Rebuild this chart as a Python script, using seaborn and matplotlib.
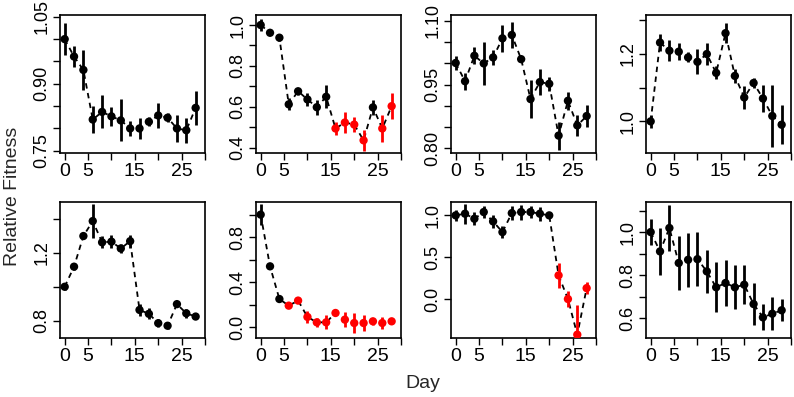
import numpy as np
import pandas as pd
import matplotlib
matplotlib.use("Agg")
import matplotlib.pyplot as plt
import seaborn as sns

sns.set_style("ticks")
plt.rcParams['font.family'] = ['Liberation Sans', 'DejaVu Sans']

days = [0, 2, 4, 6, 8, 10, 12, 14, 16, 18, 20, 22, 24, 26, 28]

fit1 = [1.00, 0.961, 0.931, 0.82, 0.837, 0.827, 0.818, 0.80, 0.80, 0.815, 0.829, 0.824, 0.80, 0.796, 0.846]
err1 = [0.035, 0.023, 0.044, 0.03, 0.037, 0.022, 0.047, 0.016, 0.024, 0.01, 0.029, 0.01, 0.031, 0.028, 0.038]
red1 = [0] * 15

fit2 = [1.0, 0.962, 0.938, 0.612, 0.676, 0.636, 0.598, 0.649, 0.494, 0.523, 0.513, 0.436, 0.597, 0.494, 0.603]
err2 = [0.028, 0.005, 0.015, 0.03, 0.018, 0.03, 0.037, 0.057, 0.03, 0.05, 0.037, 0.05, 0.037, 0.065, 0.065]
red2 = [0, 0, 0, 0, 0, 0, 0, 0, 1, 1, 1, 1, 0, 1, 1]

fit3 = [1.001, 0.958, 1.018, 1.0, 1.014, 1.059, 1.067, 1.01, 0.916, 0.956, 0.952, 0.830, 0.912, 0.854, 0.876]
err3 = [0.016, 0.02, 0.02, 0.05, 0.018, 0.031, 0.031, 0.006, 0.044, 0.03, 0.016, 0.033, 0.021, 0.025, 0.026]
red3 = [0] * 15

fit4 = [1.0, 1.234, 1.21, 1.207, 1.19, 1.177, 1.20, 1.144, 1.262, 1.135, 1.071, 1.114, 1.068, 1.016, 0.99]
err4 = [0.019, 0.026, 0.032, 0.025, 0.015, 0.037, 0.033, 0.019, 0.029, 0.022, 0.035, 0.016, 0.041, 0.092, 0.058]
red4 = [0] * 15

fit5 = [1.0, 1.118, 1.298, 1.386, 1.261, 1.265, 1.225, 1.268, 0.864, 0.841, 0.786, 0.771, 0.898, 0.844, 0.825]
err5 = [0.02, 0.018, 0.005, 0.098, 0.036, 0.039, 0.025, 0.039, 0.034, 0.032, 0.024, 0.022, 0.005, 0.026, 0.017]
red5 = [0] * 15

fit6 = [1.0, 0.541, 0.251, 0.192, 0.237, 0.092, 0.044, 0.044, 0.127, 0.068, 0.038, 0.038, 0.053, 0.038, 0.053]
err6 = [0.09, 0.005, 0.005, 0.005, 0.005, 0.05, 0.04, 0.063, 0.01, 0.068, 0.09, 0.07, 0.03, 0.055, 0.01]
red6 = [0, 0, 0, 1, 1, 1, 1, 1, 1, 1, 1, 1, 1, 1, 1]

fit7 = [1.0, 1.02, 0.96, 1.04, 0.928, 0.80, 1.027, 1.04, 1.04, 1.02, 1.0, 0.283, 0.0, -0.426, 0.13]
err7 = [0.065, 0.12, 0.08, 0.07, 0.075, 0.07, 0.08, 0.09, 0.07, 0.085, 0.02, 0.15, 0.1, 0.36, 0.07]
red7 = [0, 0, 0, 0, 0, 0, 0, 0, 0, 0, 0, 1, 1, 1, 1]

fit8 = [1.0, 0.91, 1.019, 0.856, 0.871, 0.874, 0.817, 0.743, 0.763, 0.743, 0.755, 0.665, 0.603, 0.62, 0.636]
err8 = [0.062, 0.108, 0.108, 0.124, 0.126, 0.127, 0.1, 0.116, 0.107, 0.102, 0.091, 0.097, 0.06, 0.078, 0.052]
red8 = [0] * 15

panels = [
    (fit1, err1, red1, (0.745, 1.054), [0.75, 0.80, 0.85, 0.90, 0.95, 1.00, 1.05], ["0.75", "", "", "0.90", "", "", "1.05"]),
    (fit2, err2, red2, (0.374, 1.049), [0.4, 0.5, 0.6, 0.7, 0.8, 0.9, 1.0], ["0.4", "", "0.6", "", "0.8", "", "1.0"]),
    (fit3, err3, red3, (0.789, 1.114), [0.80, 0.85, 0.90, 0.95, 1.00, 1.05, 1.10], ["0.80", "", "", "0.95", "", "", "1.10"]),
    (fit4, err4, red4, (0.906, 1.316), [1.0, 1.1, 1.2, 1.3], ["1.0", "", "1.2", ""]),
    (fit5, err5, red5, (0.699, 1.498), [0.8, 1.0, 1.2, 1.4], ["0.8", "", "1.2", ""]),
    (fit6, err6, red6, (-0.095, 1.112), [0.0, 0.2, 0.4, 0.6, 0.8, 1.0], ["0.0", "", "0.4", "", "0.8", ""]),
    (fit7, err7, red7, (-0.466, 1.16), [0.0, 0.5, 1.0], ["0.0", "0.5", "1.0"]),
    (fit8, err8, red8, (0.507, 1.14), [0.6, 0.7, 0.8, 0.9, 1.0, 1.1], ["0.6", "", "0.8", "", "1.0", ""]),
]

W, H = 794, 397
fig = plt.figure(figsize=(W / 100, H / 100), dpi=100)
lefts = [60, 256, 451, 646]
rows = [(15, 153), (202, 338)]
axw = 145

for i, (fit, err, red, ylim, yt, ytl) in enumerate(panels):
    r, c = divmod(i, 4)
    top, bot = rows[r]
    ax = fig.add_axes([lefts[c] / W, 1 - bot / H, axw / W, (bot - top) / H])
    df = pd.DataFrame({"day": days, "fit": fit, "err": err,
                       "grp": ["red" if k else "black" for k in red]})
    sns.lineplot(data=df, x="day", y="fit", ax=ax, color="black",
                 linestyle=(0, (3, 2.5)), linewidth=1.3, zorder=2)
    for _, row in df.iterrows():
        ax.vlines(row["day"], row["fit"] - row["err"], row["fit"] + row["err"],
                  color="#FF0000" if row["grp"] == "red" else "black", linewidth=2, zorder=3)
    sns.scatterplot(data=df, x="day", y="fit", hue="grp",
                    palette={"black": "black", "red": "#FF0000"},
                    s=36, edgecolor="none", legend=False, ax=ax, zorder=4)
    ax.set_xlim(-1, 30)
    ax.set_ylim(*ylim)
    ax.set_xticks([0, 5, 10, 15, 20, 25, 30])
    ax.set_xticklabels(["0", "5", "", "15", "", "25", ""], fontsize=14)
    ax.set_yticks(yt)
    ax.set_yticklabels(ytl, rotation=90, va="center", fontsize=13)
    ax.tick_params(direction="out", length=5, width=1, colors="black", pad=2)
    ax.set_xlabel("")
    ax.set_ylabel("")
    for s in ax.spines.values():
        s.set_visible(True)
        s.set_linewidth(1.2)
        s.set_color("black")

fig.text(423 / W, 1 - 384 / H, "Day", ha="center", va="center", fontsize=14)
fig.text(13 / W, 1 - 196 / H, "Relative Fitness", ha="center", va="center",
         rotation=90, fontsize=14)

fig.savefig("out.png", dpi=100)
